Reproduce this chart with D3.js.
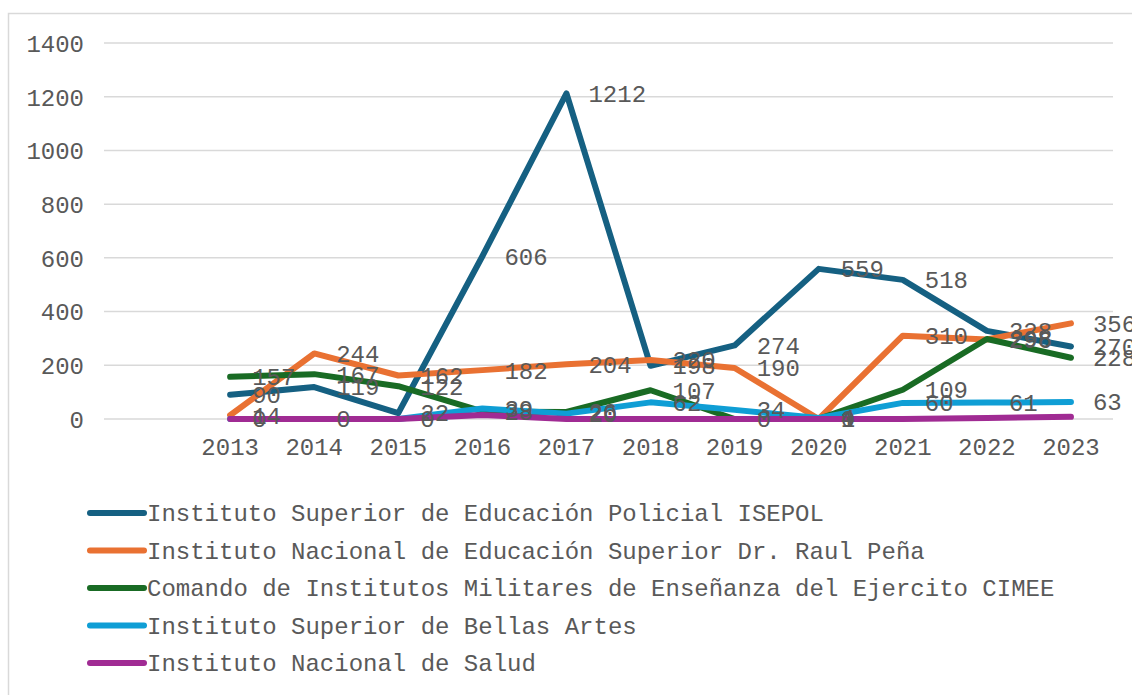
<!DOCTYPE html>
<html>
<head>
<meta charset="utf-8">
<script src="https://cdn.jsdelivr.net/npm/d3@7/dist/d3.min.js"></script>
<style>
  html, body { margin: 0; padding: 0; background: #ffffff; }
  svg { display: block; }
  text { font-family: "Liberation Mono", "Courier New", monospace; fill: #595959; }
</style>
</head>
<body>
<svg id="chart" width="1132" height="695"></svg>
<script>
// ---- Data ----
const years = ["2013", "2014", "2015", "2016", "2017", "2018", "2019", "2020", "2021", "2022", "2023"];
const seriesNames = [
  "Instituto Superior de Educación Policial ISEPOL",
  "Instituto Nacional de Educación Superior Dr. Raul Peña",
  "Comando de Institutos Militares de Enseñanza del Ejercito CIMEE",
  "Instituto Superior de Bellas Artes",
  "Instituto Nacional de Salud"
];
const isepol      = [90, 119, 22, 606, 1212, 198, 274, 559, 518, 328, 270];
const raulPena    = [14, 244, 162, 182, 204, 220, 190, 0, 310, 296, 356];
const cimee       = [157, 167, 122, 28, 26, 107, 0, 1, 109, 298, 228];
const bellasArtes = [0, 0, 0, 39, 20, 62, 34, 4, 60, 61, 63];
const salud       = [0, 0, 0, 15, 0, 0, 0, 0, 0, 4, 8];
const yTicks = [0, 200, 400, 600, 800, 1000, 1200, 1400];

const seriesValues = [isepol, raulPena, cimee, bellasArtes, salud];
const seriesColors = ["#156082", "#E97132", "#196B24", "#0F9ED5", "#A02B93"];
const showLabels = [true, true, true, true, false];

// ---- Layout ----
const svg = d3.select("#chart");
const plotLeft = 104, plotRight = 1113, plotTop = 43, plotBottom = 419;
const fontSize = 24;

// chart border
svg.append("path")
  .attr("d", "M8.5,700 L8.5,13.5 L1140,13.5")
  .attr("fill", "none").attr("stroke", "#d9d9d9").attr("stroke-width", 1.5);

// scales: one empty leading category as in the original
const x = d3.scaleBand().domain([""].concat(years)).range([plotLeft, plotRight]);
const cx = d => x(d) + x.bandwidth() / 2;
const y = d3.scaleLinear().domain([0, 1400]).range([plotBottom, plotTop]);

// gridlines
svg.append("g").selectAll("line").data(yTicks).join("line")
  .attr("x1", plotLeft).attr("x2", plotRight)
  .attr("y1", d => y(d)).attr("y2", d => y(d))
  .attr("stroke", "#d9d9d9").attr("stroke-width", 1.5);

// y axis labels
const yAxis = d3.axisLeft(y).tickValues(yTicks).tickSize(0).tickPadding(0).tickFormat(d3.format("d"));
const gy = svg.append("g").attr("transform", "translate(84,0)").call(yAxis);
gy.select(".domain").remove();
gy.selectAll("text").attr("font-size", fontSize).attr("dy", "0.35em")
  .style("font-family", "'Liberation Mono', monospace").attr("fill", "#595959");

// x axis labels
const xAxis = d3.axisBottom(x).tickSize(0).tickPadding(0);
const gx = svg.append("g").attr("transform", `translate(0,447)`).call(xAxis);
gx.select(".domain").remove();
gx.selectAll("text").attr("font-size", fontSize).attr("dy", "0.35em")
  .style("font-family", "'Liberation Mono', monospace").attr("fill", "#595959");

// lines
const line = d3.line().x((d, i) => cx(years[i])).y(d => y(d));
seriesValues.forEach((vals, s) => {
  svg.append("path")
    .datum(vals)
    .attr("d", line)
    .attr("fill", "none")
    .attr("stroke", seriesColors[s])
    .attr("stroke-width", 6)
    .attr("stroke-linejoin", "round")
    .attr("stroke-linecap", "round");
});

// data labels
seriesValues.forEach((vals, s) => {
  if (!showLabels[s]) return;
  svg.append("g").selectAll("text").data(vals).join("text")
    .attr("x", (d, i) => cx(years[i]) + 22)
    .attr("y", d => y(d))
    .attr("dy", "0.35em")
    .attr("font-size", fontSize)
    .text(d => d);
});

// legend
const legend = svg.append("g");
seriesNames.forEach((name, s) => {
  const ly = 513 + s * 37.5;
  legend.append("line")
    .attr("x1", 90).attr("x2", 144).attr("y1", ly).attr("y2", ly)
    .attr("stroke", seriesColors[s]).attr("stroke-width", 6).attr("stroke-linecap", "round");
  legend.append("text")
    .attr("x", 147).attr("y", ly).attr("dy", "0.35em")
    .attr("font-size", fontSize)
    .text(name);
});
</script>
</body>
</html>
